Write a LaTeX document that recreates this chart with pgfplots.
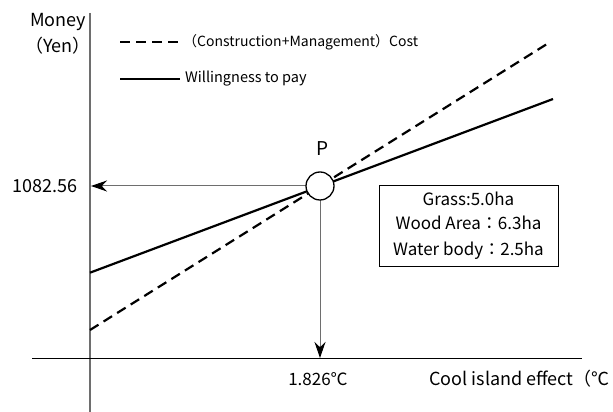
\documentclass[border=0pt]{standalone}
\usepackage{pgfplots}
\pgfplotsset{compat=1.18}
\usepackage{fontspec}
\setmainfont{Noto Sans CJK JP}
\usetikzlibrary{arrows.meta}
\definecolor{axgray}{RGB}{110,110,110}
\begin{document}
\begin{tikzpicture}
\begin{axis}[
  at={(0,0)}, anchor=south west,
  scale only axis, width=613pt, height=412pt,
  xmin=0, xmax=613, ymin=0, ymax=412,
  hide axis, clip=false,
]
% axes
\addplot[axgray, line width=1.6pt] coordinates {(90,399) (90,0)};
\addplot[black, line width=1pt] coordinates {(32,53) (582,53)};
% lines
\addplot[black, line width=2.2pt, dash pattern=on 10pt off 6pt] coordinates {(90,82) (547,368)};
\addplot[black, line width=2.2pt] coordinates {(90,139.3) (553,313)};
% legend samples
\addplot[black, line width=2.2pt, dash pattern=on 10pt off 6pt] coordinates {(120,370) (180,370)};
\addplot[black, line width=2.2pt] coordinates {(120,333) (180,333)};
% arrows
\addplot[axgray, line width=1pt, -{Stealth[black,length=16pt,width=11pt]}] coordinates {(306,226) (91,226)};
\addplot[axgray, line width=1pt, -{Stealth[black,length=16pt,width=11pt]}] coordinates {(320,212) (320,54)};
% point P
\addplot[black, line width=1.3pt, mark=*, mark size=14pt, mark options={fill=white}, only marks] coordinates {(320,226)};
% texts
\node[font=\fontsize{18}{18}\selectfont] at (axis cs:58,390) {Money};
\node[font=\fontsize{18}{18}\selectfont] at (axis cs:58,366) {（Yen）};
\node[font=\fontsize{14}{14}\selectfont, anchor=west, inner sep=0pt] at (axis cs:183,370) {（Construction+Management）Cost};
\node[font=\fontsize{14.5}{14.5}\selectfont, anchor=west, inner sep=0pt] at (axis cs:185,333) {Willingness to pay};
\node[font=\fontsize{19}{19}\selectfont] at (axis cs:323,263) {P};
\node[font=\fontsize{18}{18}\selectfont, anchor=east, inner sep=0pt] at (axis cs:78,226) {1082.56};
\node[font=\fontsize{17}{17}\selectfont] at (axis cs:318,33) {1.826℃};
\node[font=\fontsize{18}{18}\selectfont, anchor=west, inner sep=0pt] at (axis cs:429,33) {Cool island effect（℃};
\node[draw=black, line width=1pt, minimum width=179pt, minimum height=81pt, inner sep=0pt] at (axis cs:468.5,185.5) {};
\node[font=\fontsize{17}{17}\selectfont] at (axis cs:468.5,213) {Grass:5.0ha};
\node[font=\fontsize{17}{17}\selectfont] at (axis cs:468.5,189) {Wood Area：6.3ha};
\node[font=\fontsize{17}{17}\selectfont] at (axis cs:468.5,161) {Water body：2.5ha};
\end{axis}
\pgfresetboundingbox
\useasboundingbox (0,0) rectangle (613pt,412pt);
\end{tikzpicture}
\end{document}
